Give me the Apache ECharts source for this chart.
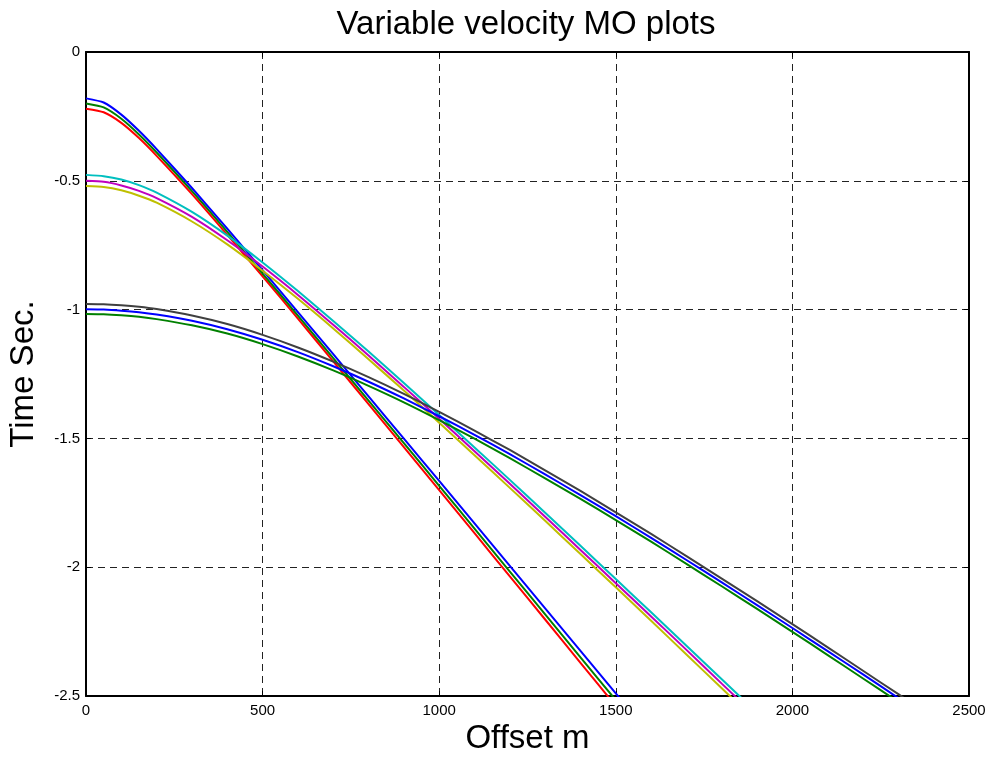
<!DOCTYPE html>
<html>
<head>
<meta charset="utf-8">
<title>Variable velocity MO plots</title>
<script src="https://cdn.jsdelivr.net/npm/echarts@6/dist/echarts.min.js"></script>
<style>
    html, body { margin: 0; padding: 0; background: #fff; }
    #chart { width: 992px; height: 758px; }
</style>
</head>
<body>
<div id="chart"></div>
<script>
// offsets (m) shared by every curve
const offsets = [0, 50, 100, 150, 200, 300, 400, 500, 600, 700, 800, 900, 1000, 1100, 1200,
    1300, 1400, 1500, 1600, 1700, 1800, 1900, 2000, 2100, 2200, 2300, 2400];

// shallow reflector (t0 ~0.2 s)
const shallowBlue = [-0.180, -0.196, -0.243, -0.306, -0.377, -0.528, -0.686, -0.847, -1.010, -1.173,
    -1.337, -1.501, -1.665, -1.830, -1.995, -2.160, -2.325, -2.490, -2.655];
const shallowGreen = [-0.200, -0.215, -0.259, -0.320, -0.390, -0.540, -0.698, -0.860, -1.023, -1.188,
    -1.353, -1.518, -1.684, -1.850, -2.017, -2.183, -2.350, -2.516];
const shallowRed = [-0.220, -0.234, -0.275, -0.334, -0.403, -0.552, -0.710, -0.871, -1.035, -1.201,
    -1.367, -1.534, -1.701, -1.868, -2.036, -2.203, -2.371, -2.539];

// middle reflector (t0 ~0.5 s)
const midCyan = [-0.477, -0.482, -0.495, -0.517, -0.546, -0.621, -0.713, -0.817, -0.928, -1.044,
    -1.163, -1.285, -1.409, -1.535, -1.661, -1.789, -1.917, -2.046, -2.175, -2.305, -2.435, -2.565];
const midMagenta = [-0.500, -0.504, -0.518, -0.539, -0.567, -0.640, -0.731, -0.833, -0.943, -1.059,
    -1.178, -1.300, -1.424, -1.550, -1.676, -1.804, -1.933, -2.062, -2.191, -2.321, -2.452, -2.582];
const midYellow = [-0.520, -0.524, -0.537, -0.558, -0.585, -0.658, -0.747, -0.849, -0.958, -1.073,
    -1.193, -1.314, -1.439, -1.565, -1.692, -1.820, -1.949, -2.078, -2.208, -2.339, -2.470, -2.601];

// deep reflector (t0 ~1.0 s)
const deepGray = [-0.978, -0.979, -0.983, -0.989, -0.998, -1.023, -1.056, -1.098, -1.147, -1.202,
    -1.262, -1.327, -1.397, -1.470, -1.545, -1.624, -1.704, -1.787, -1.871, -1.957, -2.044, -2.132,
    -2.221, -2.311, -2.402, -2.493, -2.585];
const deepBlue = [-0.999, -1.000, -1.004, -1.010, -1.019, -1.043, -1.076, -1.117, -1.165, -1.220,
    -1.280, -1.345, -1.414, -1.486, -1.561, -1.640, -1.720, -1.802, -1.886, -1.972, -2.059, -2.147,
    -2.236, -2.326, -2.416, -2.508];
const deepGreen = [-1.017, -1.018, -1.022, -1.028, -1.037, -1.061, -1.093, -1.134, -1.182, -1.236,
    -1.296, -1.360, -1.429, -1.501, -1.577, -1.655, -1.735, -1.817, -1.901, -1.987, -2.074, -2.162,
    -2.251, -2.341, -2.432, -2.523];

const curves = [
    { t: shallowRed, color: '#ff0000' },
    { t: shallowGreen, color: '#008000' },
    { t: shallowBlue, color: '#0000ff' },
    { t: midYellow, color: '#bfbf00' },
    { t: midMagenta, color: '#bf00bf' },
    { t: midCyan, color: '#00bfbf' },
    { t: deepGreen, color: '#008000' },
    { t: deepBlue, color: '#0000ff' },
    { t: deepGray, color: '#404040' },
];

const FONT = 'Liberation Sans, Arial, sans-serif';
const gridDash = { color: '#222', width: 1, type: [7, 5] };

const chart = echarts.init(document.getElementById('chart'));

chart.setOption({
    animation: false,
    backgroundColor: '#fff',
    title: {
        text: 'Variable velocity MO plots',
        left: 521, top: 3, textAlign: 'center',
        textStyle: { fontFamily: FONT, fontSize: 33, fontWeight: 'normal', color: '#000' },
    },
    grid: { left: 86, right: 23, top: 52, bottom: 62, outerBoundsMode: 'none', containLabel: false },
    xAxis: [
        {
            type: 'value', min: 0, max: 2500, interval: 500,
            name: 'Offset m', nameLocation: 'middle', nameGap: 26,
            nameTextStyle: { fontFamily: FONT, fontSize: 33, color: '#000' },
            axisLine: { onZero: false, lineStyle: { color: '#000', width: 2 } },
            axisTick: { inside: true, length: 5, lineStyle: { color: '#000' } },
            axisLabel: { fontFamily: FONT, fontSize: 15, color: '#000', margin: 7, formatter: v => String(v) },
            splitLine: { show: true, lineStyle: gridDash },
        },
        {
            type: 'value', min: 0, max: 2500, interval: 500, position: 'top',
            axisLine: { onZero: false, lineStyle: { color: '#000', width: 2 } },
            axisTick: { inside: true, length: 5, lineStyle: { color: '#000' } },
            axisLabel: { show: false },
            splitLine: { show: false },
        },
    ],
    yAxis: [
        {
            type: 'value', min: -2.5, max: 0, interval: 0.5,
            name: 'Time Sec.', nameLocation: 'middle', nameGap: 46,
            nameTextStyle: { fontFamily: FONT, fontSize: 33, color: '#000' },
            axisLine: { onZero: false, lineStyle: { color: '#000', width: 2 } },
            axisTick: { inside: true, length: 5, lineStyle: { color: '#000' } },
            axisLabel: { fontFamily: FONT, fontSize: 15, color: '#000', margin: 6, formatter: v => String(v) },
            splitLine: { show: true, lineStyle: gridDash },
        },
        {
            type: 'value', min: -2.5, max: 0, interval: 0.5, position: 'right',
            axisLine: { onZero: false, lineStyle: { color: '#000', width: 2 } },
            axisTick: { inside: true, length: 5, lineStyle: { color: '#000' } },
            axisLabel: { show: false },
            splitLine: { show: false },
        },
    ],
    series: curves.map(c => ({
        type: 'line',
        data: c.t.map((t, i) => [offsets[i], t]),
        symbol: 'none',
        smooth: 0.2,
        clip: true,
        lineStyle: { color: c.color, width: 2 },
        silent: true,
    })),
});
</script>
</body>
</html>
